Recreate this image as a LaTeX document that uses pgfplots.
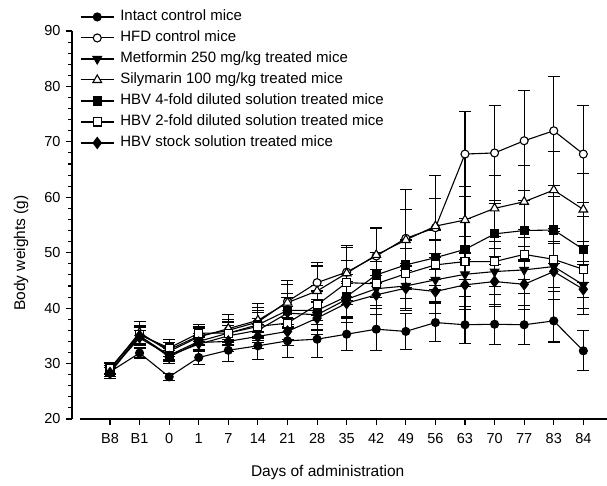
\documentclass[border=0pt]{standalone}
\usepackage{pgfplots}
\pgfplotsset{compat=1.18}
\usepackage{fontspec}
\setmainfont{Liberation Sans}
\begin{document}
\begin{tikzpicture}
\useasboundingbox (-80pt,-67pt) rectangle (527pt,419pt);
\begin{axis}[
  scale only axis, width=527pt, height=388pt,
  xmin=-1.014, xmax=16.8, ymin=20, ymax=90,
  axis x line*=bottom, axis y line*=left,
  axis y line shift=8pt,
  axis line style={line width=1.1pt, -},
  xtick={0,...,16},
  xticklabels={B8,B1,0,1,7,14,21,28,35,42,49,56,63,70,77,83,84},
  ytick={20,30,...,90}, minor y tick num=4,
  tick align=outside, major tick length=6pt, minor tick length=4pt,
  tick style={line width=1.1pt, black},
  /pgf/number format/assume math mode=true,
  tick label style={font=\fontsize{14.5}{16}\selectfont},
  xticklabel style={yshift=-5pt},
  yticklabel style={xshift=-2pt},
  xlabel={Days of administration}, ylabel={Body weights (g)},
  label style={font=\fontsize{15.5}{17}\selectfont},
  xlabel style={at={(axis description cs:0.47,0)}, anchor=north, yshift=-43pt},
  ylabel style={at={(axis description cs:0,0.428)}, anchor=south, yshift=48pt},
  clip=false,
  every axis plot/.append style={line width=1.1pt, black, error bars/y dir=both, error bars/y explicit,
     error bars/error bar style={line width=1.1pt},
     error bars/error mark options={rotate=90, mark size=6pt, line width=1.1pt}},
  legend style={draw=none, fill=none, at={(axis description cs:0,1.0567)}, anchor=north west,
     inner sep=0pt, row sep=5.5pt, font=\fontsize{15}{17}\selectfont,
     nodes={inner sep=1pt, text height=10.5pt, text depth=3pt},
     /tikz/every odd column/.append style={column sep=5pt}},
  legend cell align=left,
  legend image code/.code={\draw[mark repeat=2,mark phase=2] plot coordinates {(0pt,0pt) (16.5pt,0pt) (33pt,0pt)};},
]
\addplot[mark=*, mark size=4pt, mark options={fill=black}] table[x=x,y=y,y error=e] {
x y e
0 28.5 1.2
1 31.9 0.9
2 27.6 0.6
3 31.1 1.2
4 32.4 2.0
5 33.2 2.5
6 34.1 3.0
7 34.4 3.3
8 35.3 3.0
9 36.2 3.8
10 35.8 3.3
11 37.4 3.4
12 37.0 3.3
13 37.1 3.6
14 37.0 3.5
15 37.7 3.8
16 32.3 3.6
};
\addlegendentry{Intact control mice}
\addplot[mark=*, mark size=4pt, mark options={fill=white}] table[x=x,y=y,y error=e] {
x y e
0 29.0 1.0
1 35.3 1.6
2 32.5 1.8
3 35.0 1.6
4 36.0 2.0
5 37.5 2.6
6 41.2 3.0
7 44.6 3.6
8 46.5 4.5
9 49.4 5.0
10 52.6 8.8
11 54.5 9.4
12 67.8 7.6
13 68.0 8.6
14 70.2 9.0
15 72.0 9.8
16 67.8 8.7
};
\addlegendentry{HFD control mice}
\addplot[mark=triangle*, mark size=5pt, mark options={fill=black, rotate=180}] table[x=x,y=y,y error=e] {
x y e
0 28.7 1.0
1 34.6 1.3
2 31.5 1.2
3 33.5 1.3
4 35.0 1.8
5 36.0 2.2
6 39.1 2.8
7 38.8 2.8
8 41.6 3.2
9 43.5 3.5
10 44.0 4.0
11 45.1 4.0
12 46.1 4.0
13 46.6 4.2
14 46.9 4.2
15 47.5 4.5
16 44.2 4.2
};
\addlegendentry{Metformin 250 mg/kg treated mice}
\addplot[mark=triangle*, mark size=5pt, mark options={fill=white}] table[x=x,y=y,y error=e] {
x y e
0 29.0 1.0
1 35.6 2.0
2 32.2 1.6
3 34.8 1.5
4 36.3 2.5
5 37.8 3.0
6 41.0 4.0
7 43.1 4.5
8 46.3 5.0
9 49.6 5.0
10 52.3 5.5
11 54.8 5.0
12 55.9 6.0
13 58.0 6.0
14 59.2 6.5
15 61.3 7.0
16 57.8 6.5
};
\addlegendentry{Silymarin 100 mg/kg treated mice}
\addplot[mark=square*, mark size=4pt, mark options={fill=black}] table[x=x,y=y,y error=e] {
x y e
0 28.6 1.0
1 35.0 1.5
2 31.5 1.5
3 34.0 1.5
4 35.5 2.0
5 37.0 2.5
6 39.6 3.0
7 39.6 3.5
8 42.1 4.0
9 46.0 4.0
10 47.8 4.5
11 49.1 5.0
12 50.6 5.5
13 53.4 5.5
14 54.0 5.5
15 54.1 6.0
16 50.6 6.0
};
\addlegendentry{HBV 4-fold diluted solution treated mice}
\addplot[mark=square*, mark size=4pt, mark options={fill=white}] table[x=x,y=y,y error=e] {
x y e
0 29.2 1.0
1 35.2 1.5
2 32.8 1.5
3 35.5 1.5
4 35.5 2.0
5 36.7 2.5
6 37.3 3.0
7 40.6 3.5
8 44.6 4.0
9 44.4 4.0
10 46.2 4.5
11 47.8 4.5
12 48.4 4.5
13 48.4 4.5
14 49.7 4.5
15 48.8 5.0
16 47.0 5.0
};
\addlegendentry{HBV 2-fold diluted solution treated mice}
\addplot[mark=diamond*, mark size=5.5pt, mark options={fill=black}] table[x=x,y=y,y error=e] {
x y e
0 28.3 1.0
1 35.0 1.5
2 31.2 1.2
3 33.8 1.3
4 34.0 1.8
5 34.9 2.2
6 35.8 2.5
7 38.2 3.0
8 40.9 3.5
9 42.4 3.5
10 43.6 4.0
11 43.0 4.0
12 44.2 4.5
13 44.8 4.5
14 44.3 4.5
15 46.6 5.0
16 43.4 4.5
};
\addlegendentry{HBV stock solution treated mice}
\end{axis}
\end{tikzpicture}
\end{document}
